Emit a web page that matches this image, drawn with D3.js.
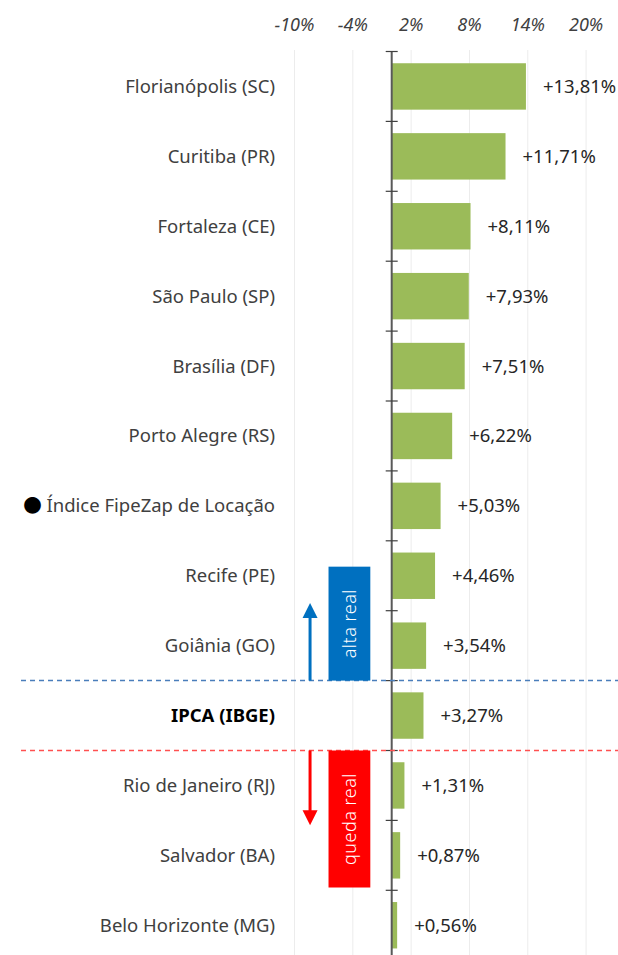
<!DOCTYPE html>
<html>
<head>
<meta charset="utf-8">
<script src="https://cdn.jsdelivr.net/npm/d3@7"></script>
<style>
  body { margin: 0; background: #fff; }
  svg { display: block; font-family: "Noto Sans", "Noto Sans CJK JP", sans-serif; }
</style>
</head>
<body>
<svg width="618" height="955"></svg>
<script>
// data
const cities = ['Florianópolis (SC)', 'Curitiba (PR)', 'Fortaleza (CE)', 'São Paulo (SP)', 'Brasília (DF)',
  'Porto Alegre (RS)', '● Índice FipeZap de Locação', 'Recife (PE)', 'Goiânia (GO)', 'IPCA (IBGE)',
  'Rio de Janeiro (RJ)', 'Salvador (BA)', 'Belo Horizonte (MG)'];
const values = [13.81, 11.71, 8.11, 7.93, 7.51, 6.22, 5.03, 4.46, 3.54, 3.27, 1.31, 0.87, 0.56];
const tickValues = [-10, -4, 2, 8, 14, 20];

const svg = d3.select('svg');
const width = +svg.attr('width');
const height = +svg.attr('height');

const x = d3.scaleLinear().domain([-10, 20]).range([294.5, 586.1]);
const y = d3.scaleBand().domain(cities).range([51.5, 960.2]).paddingInner(0.336).paddingOuter(0.168);
const row = d3.scaleLinear().domain([0, cities.length]).range(y.range());

const textColor = '#404040';

// gridlines
svg.append('g')
  .selectAll('line')
  .data(tickValues)
  .enter().append('line')
  .attr('x1', d => x(d)).attr('x2', d => x(d))
  .attr('y1', 50).attr('y2', height)
  .attr('stroke', '#ececec').attr('stroke-width', 1);

// top axis labels
svg.append('g')
  .selectAll('text')
  .data(tickValues)
  .enter().append('text')
  .attr('x', d => x(d))
  .attr('y', 31)
  .attr('text-anchor', 'middle')
  .attr('font-size', 18)
  .attr('font-style', 'italic')
  .attr('fill', textColor)
  .text(d => d + '%');

// bars
svg.append('g')
  .selectAll('rect')
  .data(cities)
  .enter().append('rect')
  .attr('x', x(0))
  .attr('y', d => y(d))
  .attr('width', (d, i) => x(values[i]) - x(0))
  .attr('height', y.bandwidth())
  .attr('fill', '#9bbb59');

// value labels
svg.append('g')
  .selectAll('text')
  .data(cities)
  .enter().append('text')
  .attr('x', (d, i) => x(values[i]) + 17)
  .attr('y', d => y(d) + y.bandwidth() / 2)
  .attr('dy', '0.35em')
  .attr('font-size', 18.5)
  .attr('fill', '#262626')
  .text((d, i) => '+' + values[i].toFixed(2).replace('.', ',') + '%');

// category labels
const labels = svg.append('g')
  .selectAll('text')
  .data(cities)
  .enter().append('text')
  .attr('x', 275)
  .attr('y', d => y(d) + y.bandwidth() / 2)
  .attr('dy', '0.35em')
  .attr('text-anchor', 'end')
  .attr('font-size', 18.5)
  .attr('font-weight', d => d.startsWith('IPCA') ? 'bold' : 'normal')
  .attr('fill', d => d.startsWith('IPCA') ? '#000' : textColor);
labels.filter(d => !d.startsWith('●')).text(d => d);
labels.filter(d => d.startsWith('●')).each(function(d) {
  const t = d3.select(this);
  t.append('tspan').attr('fill', '#000').text('●');
  t.append('tspan').text(d.slice(1));
});

// vertical axis at zero with ticks between categories
svg.append('line')
  .attr('x1', x(0)).attr('x2', x(0))
  .attr('y1', row(0)).attr('y2', height)
  .attr('stroke', '#595959').attr('stroke-width', 2);
svg.append('g')
  .selectAll('line')
  .data(d3.range(cities.length + 1))
  .enter().append('line')
  .attr('x1', x(0) - 6).attr('x2', x(0) + 6)
  .attr('y1', d => row(d)).attr('y2', d => row(d))
  .attr('stroke', '#404040').attr('stroke-width', 1.2);

// IPCA band: dashed lines, boxes and arrows
const ipca = cities.indexOf('IPCA (IBGE)');
const marks = [
  {label: 'alta real', color: '#0070c0', line: '#4a7ebb', edge: ipca, box: [ipca - 1.63, ipca], arrow: [ipca, ipca - 1.11]},
  {label: 'queda real', color: '#ff0000', line: '#ff5050', edge: ipca + 1, box: [ipca + 1, ipca + 2.96], arrow: [ipca + 1, ipca + 2.07]}
];

svg.append('g')
  .selectAll('line')
  .data(marks)
  .enter().append('line')
  .attr('x1', 21).attr('x2', width)
  .attr('y1', d => row(d.edge)).attr('y2', d => row(d.edge))
  .attr('stroke', d => d.line).attr('stroke-width', 1.5)
  .attr('stroke-dasharray', '5,4');

svg.append('g')
  .selectAll('rect')
  .data(marks)
  .enter().append('rect')
  .attr('x', x(-6.5))
  .attr('width', x(-2.2) - x(-6.5))
  .attr('y', d => row(d.box[0]))
  .attr('height', d => row(d.box[1]) - row(d.box[0]))
  .attr('fill', d => d.color);

svg.append('g')
  .selectAll('text')
  .data(marks)
  .enter().append('text')
  .attr('transform', d => `translate(${(x(-6.5) + x(-2.2)) / 2},${(row(d.box[0]) + row(d.box[1])) / 2}) rotate(-90)`)
  .attr('text-anchor', 'middle')
  .attr('dy', '0.35em')
  .attr('font-size', 18)
  .attr('font-weight', 300)
  .attr('letter-spacing', 0.5)
  .attr('fill', '#fff')
  .text(d => d.label);

const ax = x(-8.4);
marks.forEach(d => {
  const y0 = row(d.arrow[0]);
  const y1 = row(d.arrow[1]);
  const dir = y1 < y0 ? 1 : -1;
  svg.append('line')
    .attr('x1', ax).attr('x2', ax)
    .attr('y1', y0).attr('y2', y1 + dir * 12)
    .attr('stroke', d.color).attr('stroke-width', 3);
  svg.append('path')
    .attr('d', `M${ax},${y1} L${ax - 7.5},${y1 + dir * 15} L${ax + 7.5},${y1 + dir * 15} Z`)
    .attr('fill', d.color);
});
</script>
</body>
</html>
